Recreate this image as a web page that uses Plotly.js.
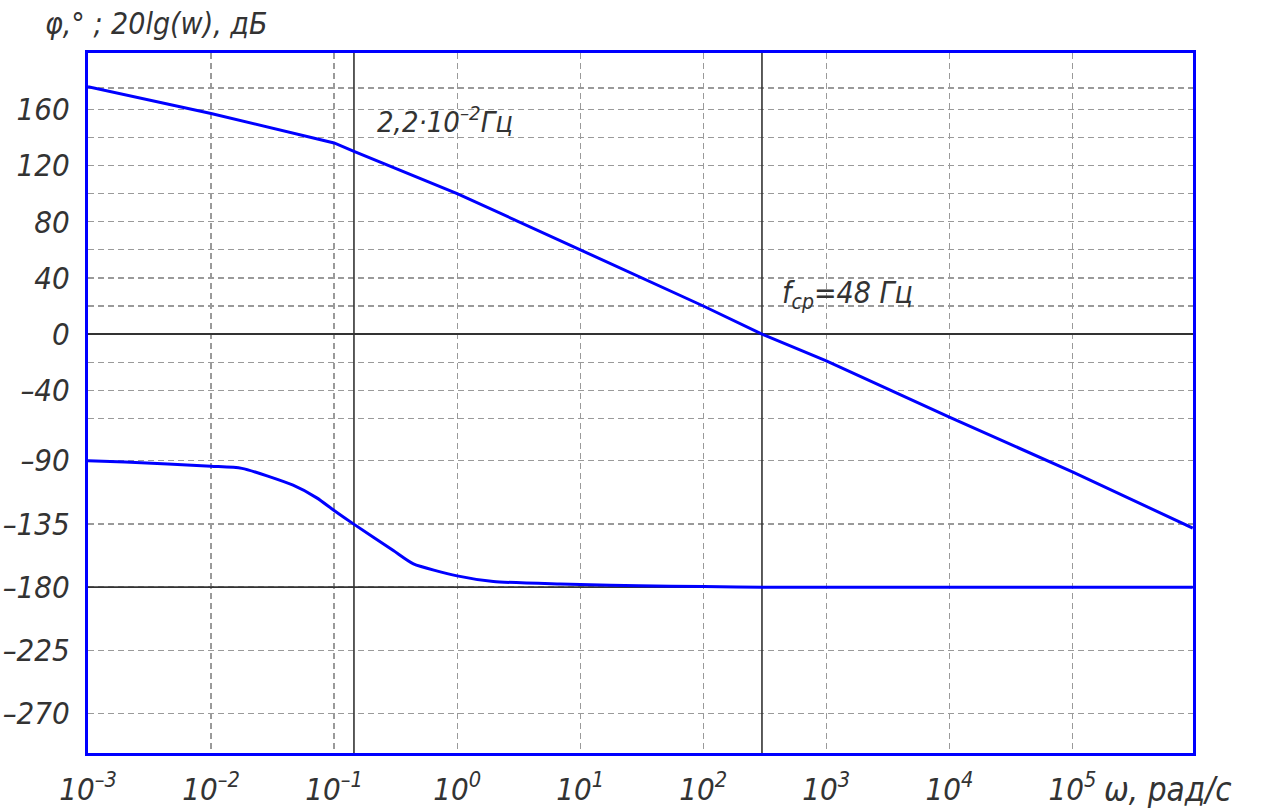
<!DOCTYPE html>
<html>
<head>
<meta charset="utf-8">
<script src="https://cdn.plot.ly/plotly-3.0.1.min.js"></script>
<style>
  html, body { margin: 0; padding: 0; background: #fff; }
  #chart { width: 1274px; height: 812px; }
</style>
</head>
<body>
<div id="chart"></div>
<script>
// Amplitude (20lg|W|, dB)
const magOmega = [0.001, 0.01, 0.1, 0.145, 1, 10, 100, 300, 1000, 10000, 100000, 950000];
const magDb    = [176, 157, 136, 130, 100, 60, 20, 0, -19, -59, -98, -138];

// Phase (deg)
const phOmega = [0.001, 0.002, 0.01, 0.0178, 0.0464, 0.0723, 0.1, 0.1435, 0.303, 0.441, 1, 1.97, 6.87, 10, 30, 100, 300, 950000];
const phDeg   = [-90, -91, -94, -95.5, -107.5, -116.5, -125.5, -135, -154, -163.5, -172, -176, -177.8, -178.2, -179, -179.6, -180, -180];

// Reference lines
const markOmega = [0.145, 300];         // corner / crossover verticals
const refLevels = [-180];               // solid horizontal besides 0

// Axis ticks
const xTickVals = [1e-3, 1e-2, 1e-1, 1e0, 1e1, 1e2, 1e3, 1e4, 1e5];
const xTickText = ['10<sup>–3</sup>', '10<sup>–2</sup>', '10<sup>–1</sup>', '10<sup>0</sup>', '10<sup>1</sup>',
                   '10<sup>2</sup>', '10<sup>3</sup>', '10<sup>4</sup>', '10<sup>5</sup>'];
const yTickVals = [160, 120, 80, 40, 0, -40, -90, -135, -180, -225, -270];
const yTickText = ['160', '120', '80', '40', '0', '–40', '–90', '–135', '–180', '–225', '–270'];
const yMinorGrid = [175, 140, 100, 60, 20, -20, -60];

const xRange = [-3, 5.98];
const yRange = [-298, 200];

const FONT = '"DejaVu Sans Condensed", "Liberation Sans", sans-serif';
const TXT = '#333';
const GRID = '#9a9a9a';

const traces = [];
markOmega.forEach(w => traces.push({
  x: [w, w], y: yRange, mode: 'lines', type: 'scatter',
  line: {color: '#333', width: 1.6}, hoverinfo: 'skip', showlegend: false
}));
refLevels.forEach(v => traces.push({
  x: [Math.pow(10, xRange[0]), Math.pow(10, xRange[1])], y: [v, v], mode: 'lines', type: 'scatter',
  line: {color: '#333', width: 1.6}, hoverinfo: 'skip', showlegend: false
}));
traces.push({x: magOmega, y: magDb, mode: 'lines', type: 'scatter',
  line: {color: '#0000ff', width: 3}, showlegend: false});
traces.push({x: phOmega, y: phDeg, mode: 'lines', type: 'scatter',
  line: {color: '#0000ff', width: 3, shape: 'spline', smoothing: 0.6}, showlegend: false});

const layout = {
  width: 1274, height: 812,
  margin: {l: 88, r: 81, t: 53, b: 59},
  paper_bgcolor: '#fff', plot_bgcolor: '#fff',
  showlegend: false,
  font: {family: FONT, color: TXT, style: 'italic'},
  xaxis: {
    type: 'log', range: xRange,
    tickvals: xTickVals, ticktext: xTickText,
    tickfont: {family: FONT, size: 31, color: TXT, style: 'italic'},
    showgrid: true, gridcolor: GRID, griddash: '6px,4px', gridwidth: 1.3,
    showline: true, linecolor: '#0000ff', linewidth: 3, mirror: true,
    ticks: '', zeroline: false, ticklabelstandoff: 7
  },
  yaxis: {
    range: yRange,
    tickvals: yTickVals, ticktext: yTickText,
    tickfont: {family: FONT, size: 31, color: TXT, style: 'italic'},
    showgrid: true, gridcolor: GRID, griddash: '6px,4px', gridwidth: 1.3,
    minor: {tickvals: yMinorGrid, showgrid: true, gridcolor: GRID, griddash: '6px,4px', gridwidth: 1.3, ticks: ''},
    zeroline: true, zerolinecolor: '#333', zerolinewidth: 1.6,
    showline: true, linecolor: '#0000ff', linewidth: 3, mirror: true,
    ticks: '', ticklabelstandoff: 9
  },
  annotations: [
    {xref: 'paper', yref: 'paper', x: -0.041, y: 1.042, xanchor: 'left', yanchor: 'middle',
     text: 'φ,° ; 20lg(w), дБ', showarrow: false,
     font: {family: FONT, size: 30, color: TXT, style: 'italic'}},
    {xref: 'paper', yref: 'paper', x: 0.918, y: -0.052, xanchor: 'left', yanchor: 'middle',
     text: 'ω, рад/с', showarrow: false,
     font: {family: FONT, size: 33, color: TXT, style: 'italic'}},
    {xref: 'x', yref: 'y', x: Math.log10(0.215), y: 152, xanchor: 'left', yanchor: 'middle',
     text: '2,2·10<sup>–2</sup>Гц', showarrow: false,
     font: {family: FONT, size: 29, color: TXT, style: 'italic'}},
    {xref: 'x', yref: 'y', x: Math.log10(423), y: 28, xanchor: 'left', yanchor: 'middle',
     text: 'f<sub>ср</sub>=48 Гц', showarrow: false,
     font: {family: FONT, size: 30, color: TXT, style: 'italic'}}
  ]
};

Plotly.newPlot('chart', traces, layout, {displayModeBar: false, staticPlot: true});
</script>
</body>
</html>
